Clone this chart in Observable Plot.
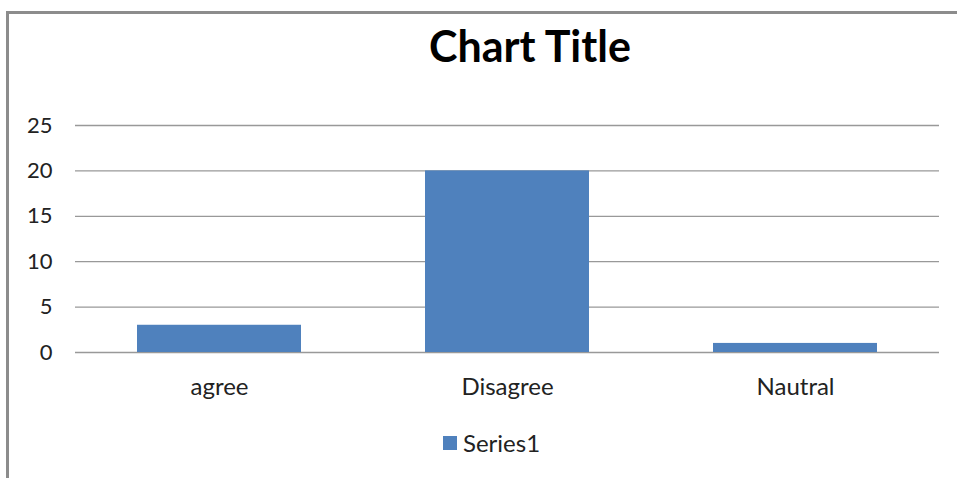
<!DOCTYPE html>
<html>
<head>
<meta charset="utf-8">
<script src="https://cdn.jsdelivr.net/npm/d3@7"></script>
<script src="https://cdn.jsdelivr.net/npm/@observablehq/plot@0.6"></script>
<style>
  html, body { margin: 0; padding: 0; background: #fff; }
  #chart { position: relative; width: 957px; height: 478px; overflow: hidden; font-family: Lato, "Open Sans", sans-serif; }
  #frame { position: absolute; left: 6px; top: 11px; width: 1000px; height: 600px; border-top: 3px solid #8c8c8c; border-left: 3px solid #8c8c8c; }
  #title { position: absolute; left: 330px; width: 400px; top: 24px; text-align: center; font-weight: bold; font-size: 43px; line-height: 1; color: #000; }
  #plot { position: absolute; left: 0; top: 100px; }
  #legend { position: absolute; left: 443px; top: 428px; display: flex; align-items: center; font-size: 24px; color: #222; }
  #legend .sw { width: 14px; height: 14px; background: #4f81bd; margin-right: 6px; }
</style>
</head>
<body>
<div id="chart">
  <div id="frame"></div>
  <div id="title">Chart Title</div>
  <div id="plot"></div>
  <div id="legend"><span class="sw"></span><span id="legend-label"></span></div>
</div>
<script>
const categories = ["agree", "Disagree", "Nautral"];
const values = [3, 20, 1];
const yTicks = [0, 5, 10, 15, 20, 25];
const seriesName = "Series1";

const data = categories.map((c, i) => ({category: c, value: values[i]}));

const chart = Plot.plot({
  width: 957,
  height: 300,
  marginTop: 25,
  marginBottom: 48,
  marginLeft: 75,
  marginRight: 18,
  style: {fontFamily: "Lato, 'Open Sans', sans-serif", color: "#222", background: "transparent"},
  x: {domain: categories, paddingInner: 0.43, paddingOuter: 0.215, label: null},
  y: {domain: [0, 25], label: null},
  marks: [
    Plot.ruleY(yTicks, {stroke: "#999", strokeWidth: 1.3}),
    Plot.barY(data, {x: "category", y: "value", fill: "#4f81bd"}),
    Plot.axisY({ticks: yTicks, tickSize: 0, tickPadding: 23, fontSize: 22, label: null}),
    Plot.axisX({tickSize: 0, tickPadding: 25, fontSize: 24, label: null})
  ]
});
document.getElementById("plot").appendChild(chart);
document.getElementById("legend-label").textContent = seriesName;
</script>
</body>
</html>
